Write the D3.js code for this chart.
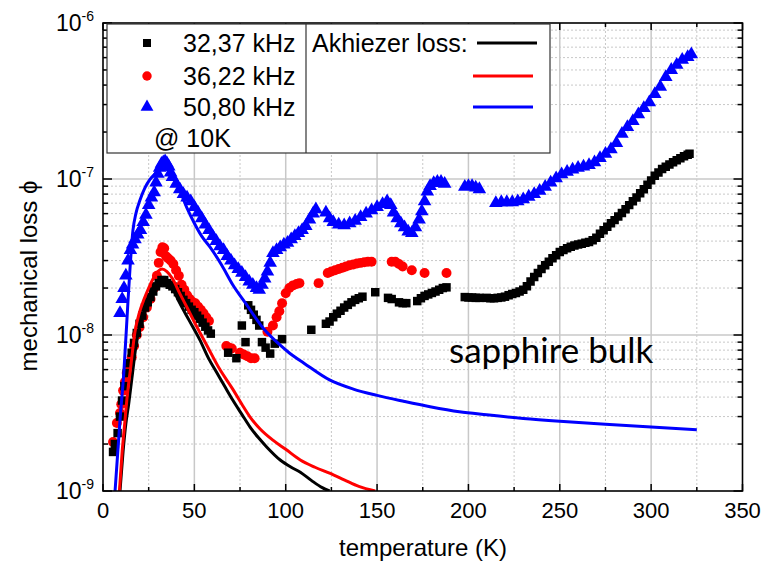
<!DOCTYPE html>
<html>
<head>
<meta charset="utf-8">
<script src="https://cdn.jsdelivr.net/npm/d3@7"></script>
<style>
  body { margin: 0; background: #fff; }
  text { font-family: "Liberation Sans", Arial, sans-serif; fill: #000; }
</style>
</head>
<body>
<div id="chart"></div>
<script>
  // measured loss, one array per resonance, [temperature K, phi]
  const sq3237 = [
    [5.5,1.78e-9],[6.5,2.0e-9],[8,2.35e-9],[9.3,3.0e-9],[10.4,3.8e-9],[11.7,4.7e-9],[13,5.7e-9],[14.3,6.6e-9],
    [15.7,7.7e-9],[17,8.9e-9],[18.5,1.03e-8],[20,1.18e-8],[21.5,1.33e-8],[23,1.5e-8],[24.5,1.62e-8],[26,1.75e-8],
    [27.5,1.9e-8],[29,2.05e-8],[30.5,2.15e-8],[32,2.25e-8],[33.5,2.25e-8],[35,2.15e-8],[36.5,2.1e-8],[38,2.05e-8],
    [39.5,1.97e-8],[41,1.88e-8],[42.5,1.78e-8],[44,1.68e-8],[45.5,1.6e-8],[47,1.52e-8],[48.5,1.45e-8],[50,1.4e-8],
    [51.5,1.33e-8],[53,1.27e-8],[54.5,1.2e-8],[56,1.13e-8],[57.5,1.07e-8],[59,1.02e-8],
    [68.5,7.7e-9],[73,7.1e-9],[76,1.15e-8],[78,9.0e-9],[79.5,1.55e-8],[81,1.45e-8],[82.5,1.35e-8],[84,1.25e-8],
    [85.5,1.15e-8],[87,9.0e-9],[89,8.3e-9],[91.5,7.6e-9],[94,8.8e-9],[98,9.4e-9],[114,1.08e-8],
    [122,1.18e-8],[124,1.22e-8],[126,1.3e-8],[128,1.37e-8],[130,1.43e-8],[132,1.5e-8],[134,1.56e-8],[136,1.62e-8],
    [138,1.68e-8],[140,1.72e-8],[142,1.76e-8],[149,1.88e-8],[156,1.73e-8],[158,1.7e-8],[162,1.62e-8],[164,1.6e-8],
    [166,1.6e-8],[172,1.65e-8],[174,1.72e-8],[176,1.78e-8],[178,1.82e-8],[180,1.86e-8],[182,1.9e-8],[184,1.95e-8],
    [186,2.0e-8],[188,2.02e-8],[198,1.75e-8],[200,1.74e-8],[202,1.74e-8],[204,1.73e-8],[206,1.73e-8],[210,1.73e-8],
    [212,1.72e-8],[214,1.72e-8],[216,1.73e-8],[218,1.74e-8],[220,1.76e-8],[222,1.8e-8],[224,1.83e-8],[226,1.86e-8],
    [228,1.9e-8],[230,1.95e-8],[232,2.05e-8],[234,2.2e-8],[236,2.35e-8],[238,2.5e-8],[240,2.65e-8],[242,2.8e-8],
    [244,2.95e-8],[246,3.1e-8],[248,3.25e-8],[250,3.4e-8],[252,3.5e-8],[254,3.6e-8],[256,3.68e-8],[258,3.75e-8],
    [260,3.8e-8],[262,3.85e-8],[264,3.9e-8],[266,3.95e-8],[268,4.05e-8],[270,4.2e-8],[272,4.45e-8],[274,4.7e-8],
    [276,4.95e-8],[278,5.2e-8],[280,5.45e-8],[282,5.75e-8],[284,6.05e-8],[286,6.4e-8],[288,6.8e-8],[290,7.2e-8],
    [292,7.6e-8],[294,8.1e-8],[296,8.6e-8],[298,9.2e-8],[300,9.8e-8],[302,1.05e-7],[304,1.1e-7],[306,1.16e-7],
    [308,1.2e-7],[310,1.24e-7],[312,1.28e-7],[314,1.32e-7],[316,1.36e-7],[318,1.4e-7],[320,1.43e-7],[321,1.45e-7]
  ];

  const circ3622 = [
    [5.5,2.06e-9],[7.6,2.73e-9],[9.3,3.16e-9],[10,3.6e-9],[11,4.4e-9],[12,5.0e-9],[13,5.7e-9],[14.3,6.4e-9],
    [15.7,7.2e-9],[17,8.5e-9],[18.5,1.0e-8],[20,1.12e-8],[22,1.3e-8],[24,1.5e-8],[26,1.7e-8],[28,2.0e-8],
    [29.5,2.4e-8],[30.5,2.9e-8],[31.5,3.4e-8],[32.5,3.65e-8],[33.5,3.6e-8],[34.5,3.2e-8],[35.6,3.1e-8],[37,3.0e-8],
    [38.5,2.85e-8],[40,2.6e-8],[41.5,2.4e-8],[43,2.1e-8],[44.5,1.95e-8],[46,1.8e-8],[47.5,1.7e-8],[49,1.63e-8],
    [50.5,1.6e-8],[52,1.52e-8],[53.5,1.45e-8],[55,1.38e-8],[56.5,1.3e-8],[58,1.23e-8],
    [67.5,8.5e-9],[69,8.3e-9],[70.5,8.2e-9],[75,7.7e-9],[77,7.5e-9],[79,7.3e-9],[81,7.1e-9],[83,7.1e-9],
    [90,1.05e-8],[93,1.15e-8],[95,1.3e-8],[96.5,1.42e-8],[98,1.6e-8],[100,1.85e-8],[102,2.0e-8],[104,2.08e-8],
    [106,2.12e-8],[107.5,2.15e-8],[118,2.15e-8],[123,2.5e-8],[125,2.55e-8],[127,2.6e-8],[129,2.65e-8],[131,2.7e-8],
    [133,2.75e-8],[135,2.8e-8],[137,2.83e-8],[139,2.87e-8],[141,2.9e-8],[143,2.93e-8],[145,2.95e-8],[147,2.95e-8],
    [158,2.95e-8],[160,2.95e-8],[162,2.85e-8],[164,2.75e-8],[169,2.6e-8],[176,2.5e-8],[188,2.5e-8]
  ];

  const tri5080 = [
    [9.3,1.38e-8],[10.5,1.7e-8],[11.5,2.0e-8],[12.5,2.4e-8],[13.7,3.0e-8],[15,3.5e-8],[16.2,3.8e-8],[17.5,4.1e-8],
    [19,4.4e-8],[20.5,4.7e-8],[22,5.3e-8],[23.5,5.9e-8],[25,6.8e-8],[26.5,7.6e-8],[28,8.2e-8],[29,9.5e-8],
    [30,1.08e-7],[31,1.18e-7],[32,1.25e-7],[33,1.28e-7],[34,1.3e-7],[35,1.26e-7],[36,1.2e-7],[37,1.1e-7],
    [38,1.03e-7],[40,9.3e-8],[42,8.6e-8],[44,8.0e-8],[46,7.6e-8],[48,7.2e-8],[50,6.6e-8],[52,6.1e-8],
    [54,5.6e-8],[56,5.1e-8],[58,4.7e-8],[60,4.3e-8],[62,4.0e-8],[64,3.7e-8],[66,3.5e-8],[68,3.2e-8],
    [70,3.0e-8],[72,2.8e-8],[74,2.65e-8],[76,2.5e-8],[78,2.35e-8],[80,2.2e-8],[82,2.1e-8],[84,2.0e-8],
    [85.5,1.95e-8],[87,2.1e-8],[88.5,2.3e-8],[90,2.55e-8],[91.5,2.9e-8],[93,3.35e-8],[95,3.5e-8],[97,3.65e-8],
    [99,3.8e-8],[101,3.9e-8],[103,4.1e-8],[105,4.3e-8],[107,4.5e-8],[109,4.7e-8],[111,5.0e-8],[113,5.5e-8],
    [115,6.0e-8],[116.5,6.4e-8],[122,6.1e-8],[124,5.6e-8],[126,5.3e-8],[129,5.1e-8],[132,5.05e-8],[135,5.2e-8],
    [138,5.4e-8],[141,5.7e-8],[144,6.0e-8],[147,6.3e-8],[150,6.6e-8],[153,6.9e-8],[155.5,7.2e-8],[157.5,6.8e-8],
    [159,6.1e-8],[161,5.6e-8],[163,5.2e-8],[165,4.9e-8],[167,4.6e-8],[169,4.5e-8],[171,4.9e-8],[173,5.5e-8],
    [174.5,6.2e-8],[176,7.2e-8],[177.5,8.3e-8],[179,9.0e-8],[181,9.4e-8],[183,9.6e-8],[185,9.6e-8],[187,9.3e-8],
    [198,8.9e-8],[200,9.0e-8],[202,9.0e-8],[204,8.8e-8],[206,8.6e-8],
    [215,7.0e-8],[218,7.1e-8],[221,7.1e-8],[224,7.1e-8],[227,7.2e-8],[230,7.4e-8],[233,7.7e-8],[236,8.0e-8],
    [239,8.4e-8],[242,8.9e-8],[245,9.5e-8],[248,1.01e-7],[251,1.07e-7],[254,1.11e-7],[257,1.15e-7],[260,1.18e-7],
    [263,1.2e-7],[266,1.23e-7],[269,1.28e-7],[272,1.36e-7],[275,1.45e-7],[278,1.55e-7],[281,1.7e-7],[284,1.95e-7],
    [287,2.15e-7],[290,2.35e-7],[293,2.6e-7],[296,2.85e-7],[299,3.1e-7],[302,3.5e-7],[305,3.9e-7],[308,4.5e-7],
    [311,5.0e-7],[314,5.4e-7],[317,5.8e-7],[320,6.05e-7],[322,6.3e-7]
  ];

  // Akhiezer model curves
  const akhBlack = [
    [9.3,1e-9],[11,1.8e-9],[12.5,2.7e-9],[13.9,3.5e-9],[16,5.5e-9],[18.5,9.3e-9],[21,1.25e-8],[23.5,1.5e-8],
    [25.7,1.7e-8],[28,1.95e-8],[30.5,2.2e-8],[32.8,2.32e-8],[35,2.25e-8],[38,2.0e-8],[42,1.6e-8],[47,1.25e-8],
    [53,9.3e-9],[58,7.0e-9],[62.4,5.7e-9],[67,4.6e-9],[71,3.83e-9],[76,3.1e-9],[80.5,2.57e-9],[85,2.2e-9],
    [89.7,1.91e-9],[97,1.58e-9],[103,1.42e-9],[108,1.32e-9],[114,1.17e-9],[120,1.05e-9],[124,1.0e-9]
  ];
  const akhRed = [
    [9.0,1e-9],[10.5,1.8e-9],[12,2.8e-9],[13,3.8e-9],[15,6e-9],[17.5,1.05e-8],[20,1.4e-8],[22.5,1.7e-8],
    [25,2.0e-8],[27.5,2.3e-8],[30,2.55e-8],[32.3,2.65e-8],[35,2.55e-8],[38,2.3e-8],[42,1.85e-8],[46,1.5e-8],
    [51,1.15e-8],[57,8.5e-9],[64,6.0e-9],[71,4.5e-9],[76,3.6e-9],[80.5,2.98e-9],[86,2.5e-9],[93,2.12e-9],
    [100,1.85e-9],[108,1.58e-9],[116,1.42e-9],[124,1.3e-9],[132,1.18e-9],[140,1.07e-9],[149,1.0e-9]
  ];
  const akhBlue = [
    [6.6,1e-9],[9.3,2.85e-9],[11.5,5.97e-9],[13.7,1.67e-8],[16.4,4.7e-8],[18,6.0e-8],[20.2,7.3e-8],[23,8.8e-8],
    [25.6,9.9e-8],[28.5,1.08e-7],[31,1.14e-7],[33.5,1.16e-7],[36,1.13e-7],[38.5,1.04e-7],[42,8.5e-8],[46,6.5e-8],
    [50,5.2e-8],[54,4.3e-8],[58.6,3.66e-8],[65,2.8e-8],[71,2.1e-8],[78,1.6e-8],[87.6,1.11e-8],[97,8.6e-9],
    [102,7.67e-9],[110,6.6e-9],[124,5.15e-9],[137,4.5e-9],[150,4.1e-9],[165,3.75e-9],[179,3.47e-9],[195,3.22e-9],
    [210,3.08e-9],[230,2.92e-9],[250,2.8e-9],[275,2.68e-9],[300,2.57e-9],[325,2.47e-9]
  ];

  const xMajor = [0, 50, 100, 150, 200, 250, 300, 350];
  const xMinor = [25, 75, 125, 175, 225, 275, 325];
  const yDecades = [1e-9, 1e-8, 1e-7, 1e-6];
  const yExponents = ['-9', '-8', '-7', '-6'];
  const yMinor = [1e-9, 1e-8, 1e-7].flatMap(d => [2, 3, 4, 5, 6, 7, 8, 9].map(k => k * d));

  const legendNames = ['32,37 kHz', '36,22 kHz', '50,80 kHz'];
  const legendColors = ['#000000', '#ff0000', '#0000ff'];

  const W = 775, H = 570;
  const pL = 103, pR = 742.5, pT = 23, pB = 491;

  const x = d3.scaleLinear().domain([0, 350]).range([pL, pR]);
  const y = d3.scaleLog().domain([1e-9, 1e-6]).range([pB, pT]);

  const svg = d3.select('#chart')
    .append('svg')
    .attr('width', W)
    .attr('height', H);

  svg.append('defs').append('clipPath').attr('id', 'plot')
    .append('rect')
    .attr('x', pL).attr('y', pT)
    .attr('width', pR - pL).attr('height', pB - pT);

  // grid
  const grid = svg.append('g').attr('stroke', '#c8c8c8');
  grid.selectAll('.vmin').data(xMinor).enter().append('line')
    .attr('x1', d => x(d)).attr('x2', d => x(d)).attr('y1', pT).attr('y2', pB)
    .attr('stroke-dasharray', '2,2').attr('stroke-width', 1);
  grid.selectAll('.vmaj').data(xMajor.slice(1, -1)).enter().append('line')
    .attr('x1', d => x(d)).attr('x2', d => x(d)).attr('y1', pT).attr('y2', pB)
    .attr('stroke-width', 1.5);
  grid.selectAll('.hmin').data(yMinor).enter().append('line')
    .attr('y1', d => y(d)).attr('y2', d => y(d)).attr('x1', pL).attr('x2', pR)
    .attr('stroke-dasharray', '2,2').attr('stroke-width', 1);
  grid.selectAll('.hmaj').data(yDecades.slice(1, -1)).enter().append('line')
    .attr('y1', d => y(d)).attr('y2', d => y(d)).attr('x1', pL).attr('x2', pR)
    .attr('stroke-width', 1.5);

  // markers
  const sym = (type, size) => d3.symbol().type(type).size(size)();
  const plotSeries = (data, type, size, color) => {
    svg.append('g').attr('clip-path', 'url(#plot)')
      .selectAll('path')
      .data(data)
      .enter()
      .append('path')
      .attr('transform', d => `translate(${x(d[0])},${y(d[1])})`)
      .attr('d', sym(type, size))
      .attr('fill', color);
  };
  plotSeries(tri5080, d3.symbolTriangle, 80, '#0000ff');
  plotSeries(circ3622, d3.symbolCircle, 78, '#ff0000');
  plotSeries(sq3237, d3.symbolSquare, 72, '#000000');

  // model lines
  const line = d3.line().x(d => x(d[0])).y(d => y(d[1])).curve(d3.curveMonotoneX);
  [[akhBlack, '#000000'], [akhRed, '#ff0000'], [akhBlue, '#0000ff']].forEach(([data, color]) => {
    svg.append('path')
      .attr('clip-path', 'url(#plot)')
      .attr('d', line(data))
      .attr('fill', 'none')
      .attr('stroke', color)
      .attr('stroke-width', 3);
  });

  // ticks pointing inwards on all four sides
  const ticks = svg.append('g').attr('stroke', '#000').attr('stroke-width', 1.5);
  const xTicks = xMajor.map(v => [v, 7]).concat(xMinor.map(v => [v, 4]));
  ticks.selectAll('.tb').data(xTicks).enter().append('line')
    .attr('x1', d => x(d[0])).attr('x2', d => x(d[0]))
    .attr('y1', pB).attr('y2', d => pB - d[1]);
  ticks.selectAll('.tt').data(xTicks).enter().append('line')
    .attr('x1', d => x(d[0])).attr('x2', d => x(d[0]))
    .attr('y1', pT).attr('y2', d => pT + d[1]);
  const yTicks = yDecades.map(v => [v, 9]).concat(yMinor.map(v => [v, 5]));
  ticks.selectAll('.tl').data(yTicks).enter().append('line')
    .attr('y1', d => y(d[0])).attr('y2', d => y(d[0]))
    .attr('x1', pL).attr('x2', d => pL + d[1]);
  ticks.selectAll('.tr').data(yTicks).enter().append('line')
    .attr('y1', d => y(d[0])).attr('y2', d => y(d[0]))
    .attr('x1', pR).attr('x2', d => pR - d[1]);

  svg.append('rect')
    .attr('x', pL).attr('y', pT)
    .attr('width', pR - pL).attr('height', pB - pT)
    .attr('fill', 'none').attr('stroke', '#000').attr('stroke-width', 1.6);

  // tick labels
  svg.selectAll('.xl').data(xMajor).enter().append('text')
    .attr('x', d => x(d)).attr('y', 518)
    .attr('text-anchor', 'middle')
    .style('font-size', '22px')
    .text(d => d);

  const yl = svg.selectAll('.yl').data(yDecades).enter().append('text')
    .attr('x', 94).attr('y', d => y(d) + 8)
    .attr('text-anchor', 'end')
    .style('font-size', '23px');
  yl.append('tspan').text('10');
  yl.append('tspan').attr('dy', -10).style('font-size', '14px').text((d, i) => yExponents[i]);

  // axis titles
  svg.append('text')
    .attr('x', 423).attr('y', 556)
    .attr('text-anchor', 'middle')
    .style('font-size', '24px')
    .text('temperature (K)');
  svg.append('text')
    .attr('transform', 'translate(37,276) rotate(-90)')
    .attr('text-anchor', 'middle')
    .style('font-size', '24px')
    .text('mechanical loss ϕ');

  svg.append('text')
    .attr('x', 449).attr('y', 363)
    .style('font-family', 'Lato, "Open Sans", sans-serif')
    .style('font-size', '35px')
    .text('sapphire bulk');

  // legend
  const lg = svg.append('g');
  lg.append('rect')
    .attr('x', 107).attr('y', 24).attr('width', 443).attr('height', 129)
    .attr('fill', '#fff').attr('stroke', '#333').attr('stroke-width', 1.2);
  lg.append('line')
    .attr('x1', 306).attr('x2', 306).attr('y1', 24).attr('y2', 153)
    .attr('stroke', '#333').attr('stroke-width', 1.2);

  const legendY = [43, 76, 107];
  const legendSym = [[d3.symbolSquare, 64], [d3.symbolCircle, 70], [d3.symbolTriangle, 72]];
  legendNames.forEach((name, i) => {
    lg.append('path')
      .attr('transform', `translate(147,${legendY[i]})`)
      .attr('d', sym(legendSym[i][0], legendSym[i][1]))
      .attr('fill', legendColors[i]);
    lg.append('text')
      .attr('x', 183).attr('y', legendY[i] + 9)
      .style('font-size', '25px')
      .text(name);
    lg.append('line')
      .attr('x1', i === 0 ? 477 : 473).attr('x2', i === 0 ? 537 : 533)
      .attr('y1', legendY[i]).attr('y2', legendY[i])
      .attr('stroke', legendColors[i]).attr('stroke-width', 3);
  });
  lg.append('text')
    .attr('x', 154).attr('y', 147)
    .style('font-size', '25px')
    .text('@ 10K');
  lg.append('text')
    .attr('x', 312).attr('y', 52)
    .style('font-size', '25px')
    .text('Akhiezer loss:');
</script>
</body>
</html>
